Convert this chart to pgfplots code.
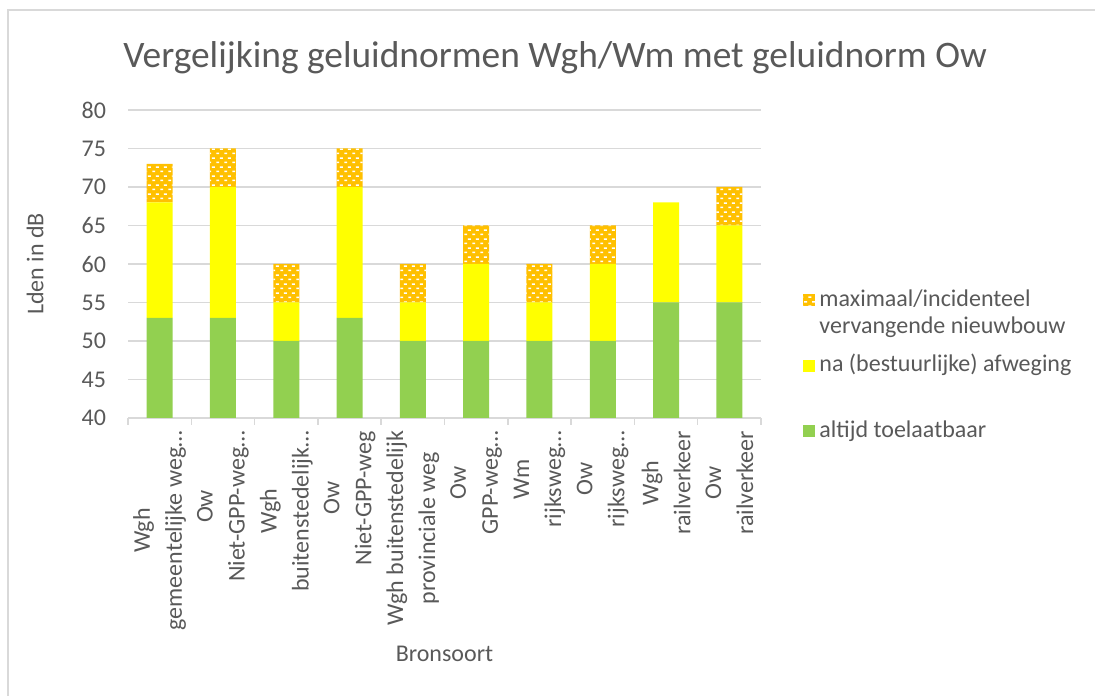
\documentclass[border=0pt]{standalone}
\usepackage{fontspec}
\setmainfont{Carlito}
\usepackage{pgfplots}
\pgfplotsset{compat=1.18}
\usetikzlibrary{patterns.meta}
\definecolor{cgreen}{HTML}{92D050}
\definecolor{cyellow}{HTML}{FFFF00}
\definecolor{corange}{HTML}{FFC000}
\definecolor{ctext}{HTML}{595959}
\definecolor{cgrid}{HTML}{D9D9D9}
\pgfdeclarepattern{
  name=wdash,
  type=uncolored,
  bottom left={\pgfpoint{0pt}{0pt}},
  top right={\pgfpoint{4pt}{4.3pt}},
  tile size={\pgfpoint{4pt}{4.3pt}},
  code={
    \pgfpathrectangle{\pgfpoint{0.2pt}{0.5pt}}{\pgfpoint{1.6pt}{0.8pt}}
    \pgfpathrectangle{\pgfpoint{2.2pt}{2.65pt}}{\pgfpoint{1.6pt}{0.8pt}}
    \pgfusepath{fill}
  }
}
\begin{document}
\begin{tikzpicture}[font=\fontsize{12}{13.5}\selectfont]
\useasboundingbox (0,0) rectangle (547.5pt,347.5pt);
\draw[cgrid, line width=0.75pt] (4pt,-20pt) rectangle (570pt,342.5pt);
\begin{axis}[
  at={(64pt,138.5pt)}, anchor=south west,
  scale only axis, width=316.5pt, height=154pt,
  ybar stacked, bar width=13pt,
  xmin=-0.5, xmax=9.5, ymin=40, ymax=80,
  ytick={40,45,...,80},
  xtick={0,...,9},
  minor xtick={-0.5,0.5,...,9.5},
  xticklabels={{Wgh\\gemeentelijke weg…},{Ow\\Niet-GPP-weg…},{Wgh\\buitenstedelijk…},{Ow\\Niet-GPP-weg},{Wgh buitenstedelijk\\provinciale weg},{Ow\\GPP-weg…},{Wm\\rijksweg…},{Ow\\rijksweg…},{Wgh\\railverkeer},{Ow\\railverkeer}},
  xticklabel style={rotate=90, anchor=east, align=center, font=\fontsize{12}{16}\selectfont, text=ctext},
  yticklabel style={text=ctext},
  xticklabel shift=3pt,
  yticklabel shift=7.5pt,
  /pgf/number format/assume math mode=true,
  axis x line*=bottom, axis y line*=left,
  y axis line style={draw=none},
  x axis line style={draw=cgrid, line width=0.75pt},
  tick align=outside,
  major tick length=0pt,
  minor tick length=3.5pt,
  major tick style={draw=none},
  minor x tick style={draw=cgrid, line width=0.75pt},
  ymajorgrids, grid style={draw=cgrid, line width=0.75pt},
  title={Vergelijking geluidnormen Wgh/Wm met geluidnorm Ow},
  title style={at={(axis description cs:0.6746,1.098)}, anchor=base, font=\fontsize{18.7}{22}\selectfont, text=ctext},
  ylabel={Lden in dB},
  ylabel style={at={(axis description cs:-0.1469,0.5)}, anchor=center, text=ctext},
  xlabel={Bronsoort},
  xlabel style={at={(axis description cs:0.5,-0.792)}, anchor=base, text=ctext},
  legend image code/.code={\draw[#1,draw=none] (0pt,-3pt) rectangle (6pt,3pt);},
  reverse legend,
  legend cell align=left,
  legend style={draw=none, fill=none, at={(axis description cs:1.0664,0.435)}, anchor=north west, inner sep=0pt, row sep=16.75pt, column sep=0pt, nodes={text height=9pt, text depth=3pt, text=ctext}, font=\fontsize{12}{13.5}\selectfont},
]
\addplot[fill=cgreen, draw=none] coordinates {(0,53) (1,53) (2,50) (3,53) (4,50) (5,50) (6,50) (7,50) (8,55) (9,55)};
\addlegendentry{altijd toelaatbaar}
\addplot[fill=cyellow, draw=none] coordinates {(0,15) (1,17) (2,5) (3,17) (4,5) (5,10) (6,5) (7,10) (8,13) (9,10)};
\addlegendentry{na (bestuurlijke) afweging}
\addplot[fill=corange, draw=none, postaction={pattern=wdash, pattern color=white}] coordinates {(0,5) (1,5) (2,5) (3,5) (4,5) (5,5) (6,5) (7,5) (8,0) (9,5)};
\addlegendentry{\rlap{\smash{\raisebox{-13.5pt}{vervangende nieuwbouw}}}maximaal/incidenteel}
\end{axis}
\end{tikzpicture}
\end{document}
